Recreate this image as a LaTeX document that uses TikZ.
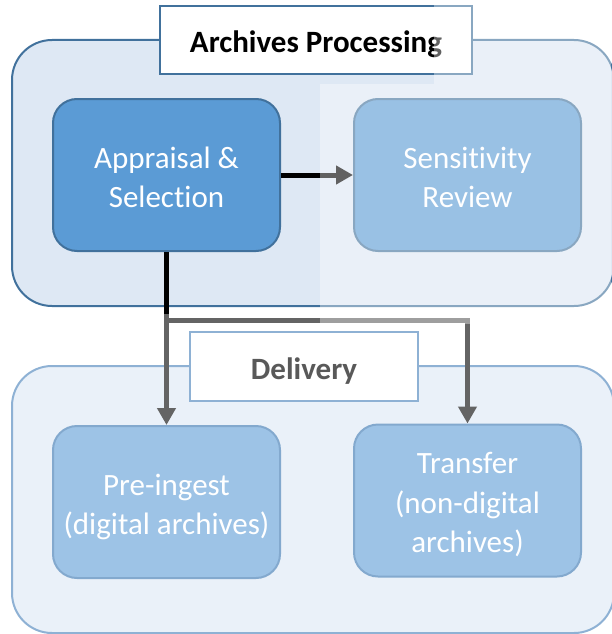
\documentclass[tikz,border=0pt]{standalone}
\usepackage{fontspec}
\setmainfont{Carlito}[RawFeature={-liga;-clig;-calt;-dlig}]
\usetikzlibrary{arrows.meta}
\definecolor{grpfill}{HTML}{DEE8F4}
\definecolor{grpline}{HTML}{41719C}
\definecolor{grpfillB}{HTML}{EAF1F9}
\definecolor{grplineB}{HTML}{8EB1D4}
\definecolor{dkfill}{HTML}{5B9BD5}
\definecolor{ltfill}{HTML}{9DC3E6}
\definecolor{ltline}{HTML}{83A9CE}
\definecolor{conngray}{HTML}{646464}
\definecolor{deltext}{HTML}{595959}
\newcommand{\boxlines}[1]{\raisebox{0pt}[\dimexpr\height+10pt\relax][\depth]{\begin{tabular}{@{}c@{}}#1\end{tabular}}}
\tikzset{
  group/.style={rectangle, rounded corners=40pt, line width=2pt, inner sep=0pt},
  procbox/.style={rectangle, rounded corners=24pt, minimum width=227pt, minimum height=152pt,
    line width=2pt, text=white, inner sep=0pt,
    font=\fontsize{31}{39.5}\selectfont},
  titlebox/.style={rectangle, fill=white, line width=2pt, inner sep=0pt,
    font=\bfseries\fontsize{31}{38}\selectfont},
  conn/.style={line width=5pt},
  tip/.style={-{Triangle[length=17pt 0 0,width=18pt 0 0]}}
}
\begin{document}
\begin{tikzpicture}[x=1pt,y=-1pt]
\useasboundingbox (0,0) rectangle (611,634);
% groups
\node[group, fill=grpfill, draw=grpline, minimum width=602pt, minimum height=266pt] (proc) at (313,173) {};
\node[group, fill=grpfillB, draw=grplineB, minimum width=602pt, minimum height=267pt] (deliv) at (313,499.5) {};
% titles
\node[titlebox, draw=grpline, minimum width=312pt, minimum height=68pt] (proct) at (316,40) {\boxlines{Archives Processing}};
\node[titlebox, draw=grplineB, text=deltext, minimum width=228pt, minimum height=69pt] (delt) at (304,366.5) {\boxlines{Delivery}};
% steps
\node[procbox, fill=dkfill, draw=grpline] (app) at (166.5,175) {\boxlines{Appraisal \&\\Selection}};
\node[procbox, fill=dkfill, draw=grpline] (sens) at (467.5,175) {\boxlines{Sensitivity\\Review}};
\node[procbox, fill=ltfill, draw=ltline] (pre) at (166.5,502) {\boxlines{Pre-ingest\\(digital archives)}};
\node[procbox, fill=ltfill, draw=ltline] (trans) at (467.5,500.5) {\boxlines{Transfer\\(non-digital\\archives)}};
% connectors
\coordinate (jt) at (166.5,314);
\coordinate (j) at (166.5,320);
\draw[conn, tip, black] (app.east) -- (sens.west);
\draw[conn, tip, conngray] (jt) -- (pre.north);
\draw[conn, tip, conngray, line join=miter] (j) -| (trans.north);
\draw[conn, black] (app.south) -- (jt);
% fade overlay
\fill[white, opacity=0.38] (320,84) rectangle (611,323.5);
\fill[white, opacity=0.38] (434,0) rectangle (611,84);
\end{tikzpicture}
\end{document}
